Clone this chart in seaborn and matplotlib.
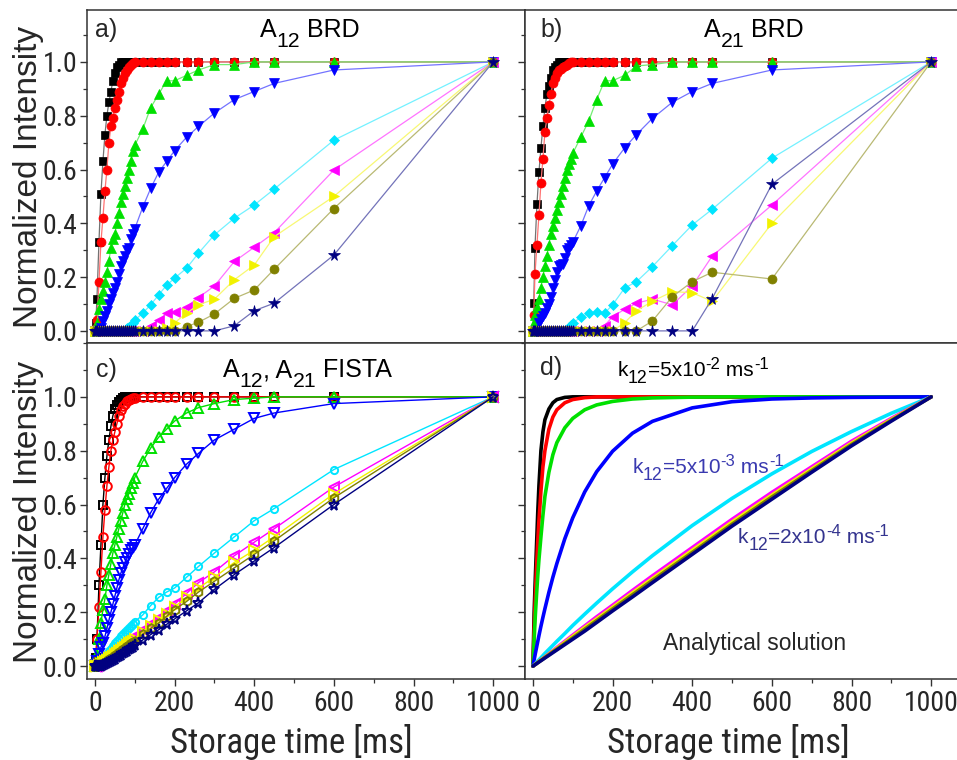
import matplotlib
matplotlib.use("Agg")
import matplotlib.pyplot as plt
import matplotlib.colors as mcolors
from matplotlib import font_manager as fm
from matplotlib.ticker import MultipleLocator
import seaborn as sns

# ---------------------------------------------------------------- data
# storage times [ms] of the measured / reconstructed series (panels a-c)
t_ms = [0, 2, 5, 10, 15, 20, 25, 30, 35, 40, 45, 50, 55, 60, 65, 70, 75, 80, 85,
        90, 95, 100, 120, 140, 160, 180, 200, 230, 260, 300, 350, 400, 450, 600, 1000]

# a) A12 BRD
a_black = [0, .03, .12, .33, .51, .63, .73, .80, .85, .89, .93, .96, .98, .99, 1, 1, 1, 1, 1,
           1, 1, 1, 1, 1, 1, 1, 1, 1, 1, 1, 1, 1, 1, 1, 1]
a_red = [0, .01, .04, .18, .33, .42, .52, .60, .70, .76, .79, .83, .86, .89, .92, .94, .96, .97, .98,
         .99, .995, 1, 1, 1, 1, 1, 1, 1, 1, 1, 1, 1, 1, 1, 1]
a_green = [0, .01, .03, .08, .12, .15, .18, .22, .26, .31, .34, .36, .40, .44, .48, .51, .54, .57, .60,
           .63, .67, .69, .75, .83, .88, .93, .93, .95, .97, .99, .99, 1, 1, 1, 1]
a_blue = [0, 0, 0, 0, .01, .035, .055, .075, .10, .12, .14, .16, .18, .21, .24, .26, .28, .30, .31,
          .34, .36, .38, .46, .53, .59, .63, .67, .72, .76, .81, .86, .89, .92, .97, 1]
a_cyan = [0, 0, 0, 0, 0, 0, 0, 0, 0, 0, 0, 0, 0, 0, 0, 0, 0, .01, .015,
          .02, .03, .04, .066, .097, .134, .17, .196, .233, .289, .357, .419, .468, .527, .709, 1]
a_magenta = [0, 0, 0, 0, 0, 0, 0, 0, 0, 0, 0, 0, 0, 0, 0, 0, 0, 0, 0,
             0, 0, 0, 0, .02, .04, .065, .07, .09, .124, .167, .258, .311, .365, .598, 1]
a_yellow = [0, 0, 0, 0, 0, 0, 0, 0, 0, 0, 0, 0, 0, 0, 0, 0, 0, 0, 0,
            0, 0, 0, 0, 0, 0, .01, .03, .066, .097, .118, .19, .245, .35, .50, 1]
a_olive = [0, 0, 0, 0, 0, 0, 0, 0, 0, 0, 0, 0, 0, 0, 0, 0, 0, 0, 0,
           0, 0, 0, 0, 0, 0, 0, 0, .016, .032, .063, .121, .152, .229, .455, 1]
a_navy = [0, 0, 0, 0, 0, 0, 0, 0, 0, 0, 0, 0, 0, 0, 0, 0, 0, 0, 0,
          0, 0, 0, 0, 0, 0, 0, 0, 0, 0, 0, .019, .075, .103, .282, 1]

# b) A21 BRD
b_black = [0, .105, .31, .47, .59, .68, .76, .83, .88, .91, .94, .97, .98, .99, 1, 1, 1, 1, 1,
           1, 1, 1, 1, 1, 1, 1, 1, 1, 1, 1, 1, 1, 1, 1, 1]
b_red = [0, .06, .21, .32, .43, .55, .64, .74, .79, .84, .88, .92, .94, .96, .97, .975, .98, .985, .99,
         .995, 1, 1, 1, 1, 1, 1, 1, 1, 1, 1, 1, 1, 1, 1, 1]
b_green = [0, .03, .06, .09, .12, .16, .20, .24, .28, .32, .36, .39, .42, .45, .48, .51, .54, .57, .60,
           .62, .64, .66, .72, .78, .86, .93, .93, .95, .985, .99, 1, 1, 1, 1, 1]
b_blue = [0, 0, 0, 0, .03, .045, .055, .066, .085, .10, .125, .16, .19, .22, .24, .245, .25, .27, .30,
          .31, .32, .33, .39, .465, .52, .57, .62, .68, .73, .79, .85, .89, .92, .97, 1]
b_cyan = [0, 0, 0, 0, 0, 0, 0, 0, 0, 0, 0, 0, 0, 0, 0, 0, 0, 0, 0,
          .015, .022, .03, .05, .066, .07, .066, .097, .159, .183, .239, .317, .394, .452, .642, 1]
b_magenta = [0, 0, 0, 0, 0, 0, 0, 0, 0, 0, 0, 0, 0, 0, 0, 0, 0, 0, 0,
             0, 0, 0, 0, 0, 0, .02, .053, .08, .103, .118, .097, .167, .278, .468, 1]
b_yellow = [0, 0, 0, 0, 0, 0, 0, 0, 0, 0, 0, 0, 0, 0, 0, 0, 0, 0, 0,
            0, 0, 0, 0, 0, 0, 0, 0, .03, .075, .11, .146, .142, .11, .40, 1]
b_olive = [0, 0, 0, 0, 0, 0, 0, 0, 0, 0, 0, 0, 0, 0, 0, 0, 0, 0, 0,
           0, 0, 0, 0, 0, 0, 0, 0, 0, 0, .037, .127, .183, .218, .193, 1]
b_navy = [0, 0, 0, 0, 0, 0, 0, 0, 0, 0, 0, 0, 0, 0, 0, 0, 0, 0, 0,
          0, 0, 0, 0, 0, 0, 0, 0, 0, 0, 0, 0, 0, .12, .545, 1]

# c) A12, A21 FISTA
c_black = [0, .03, .10, .30, .45, .60, .70, .78, .84, .89, .93, .955, .97, .98, .99, .995, 1, 1, 1,
           1, 1, 1, 1, 1, 1, 1, 1, 1, 1, 1, 1, 1, 1, 1, 1]
c_red = [0, .02, .10, .22, .35, .48, .58, .67, .74, .80, .84, .87, .90, .93, .95, .965, .975, .983, .988,
         .992, .995, .997, 1, 1, 1, 1, 1, 1, 1, 1, 1, 1, 1, 1, 1]
c_green = [0, .01, .04, .10, .16, .21, .25, .30, .34, .38, .42, .45, .48, .51, .54, .57, .60, .62, .64,
           .66, .68, .70, .76, .81, .85, .88, .91, .94, .96, .975, .99, .995, 1, 1, 1]
c_blue = [0, .005, .02, .045, .07, .085, .11, .14, .17, .20, .23, .26, .29, .32, .345, .365, .385, .40, .415,
          .43, .44, .45, .51, .57, .62, .66, .70, .75, .79, .84, .88, .92, .94, .975, 1]
c_cyan = [0, 0, .005, .012, .02, .028, .035, .045, .055, .065, .075, .085, .093, .10, .11, .12, .127, .135, .143,
          .15, .157, .165, .19, .225, .255, .275, .29, .33, .37, .42, .48, .54, .585, .73, 1]
c_magenta = [0, 0, 0, .005, .01, .015, .022, .028, .035, .042, .048, .055, .06, .066, .072, .078, .084, .09, .095,
             .10, .106, .112, .135, .158, .18, .205, .23, .27, .31, .35, .41, .46, .51, .665, 1]
c_yellow = [0, 0, .002, .005, .009, .014, .019, .024, .029, .034, .039, .044, .05, .055, .06, .066, .072, .078, .084,
            .09, .095, .10, .125, .15, .17, .195, .22, .255, .29, .33, .385, .43, .48, .64, 1]
c_olive = [0, 0, .001, .004, .007, .011, .015, .02, .025, .03, .035, .04, .046, .051, .056, .062, .067, .073, .079,
           .085, .09, .095, .118, .14, .16, .185, .21, .24, .275, .315, .365, .415, .465, .625, 1]
c_navy = [0, 0, 0, .001, .002, .004, .007, .01, .014, .018, .022, .027, .032, .037, .042, .047, .052, .057, .062,
          .067, .072, .077, .097, .117, .135, .155, .175, .205, .235, .285, .34, .39, .44, .60, 1]

# d) analytical solution, read on its own time grid
t_d = [0, 3, 6, 9, 12, 15, 20, 25, 30, 40, 50, 60, 80, 100, 130, 160, 200, 250, 300,
       400, 500, 600, 700, 800, 900, 1000]
d_black = [0, .20, .33, .45, .57, .67, .80, .87, .915, .955, .978, .99, .998, 1, 1, 1, 1, 1, 1,
           1, 1, 1, 1, 1, 1, 1]
d_red = [0, .14, .26, .37, .46, .54, .65, .74, .80, .88, .925, .952, .978, .99, .997, 1, 1, 1, 1,
         1, 1, 1, 1, 1, 1, 1]
d_green = [0, .10, .19, .265, .335, .395, .48, .56, .63, .72, .785, .83, .885, .92, .952, .97, .983, .992, .996,
           .999, 1, 1, 1, 1, 1, 1]
d_blue = [0, .024, .047, .069, .091, .113, .148, .181, .213, .274, .33, .381, .473, .551, .647, .722, .798, .865, .909,
          .959, .982, .992, .996, .998, .999, 1]
d_cyan = [0, .005, .009, .014, .019, .023, .031, .039, .047, .062, .077, .092, .121, .151, .193, .234, .287, .35, .41,
          .522, .623, .714, .797, .871, .939, 1]
d_magenta = [0, .003, .007, .01, .014, .017, .023, .029, .034, .046, .057, .069, .092, .115, .149, .183, .226, .281, .335,
             .44, .545, .645, .74, .835, .92, 1]
d_yellow = [0, .003, .007, .01, .013, .017, .022, .028, .033, .044, .055, .066, .088, .11, .143, .175, .218, .272, .325,
            .43, .535, .635, .732, .828, .916, 1]
d_olive = [0, .003, .006, .009, .013, .016, .021, .026, .032, .042, .053, .063, .084, .105, .137, .169, .212, .265, .318,
           .422, .527, .628, .726, .823, .913, 1]
d_navy = [0, .003, .006, .009, .012, .015, .02, .025, .03, .04, .05, .06, .08, .10, .13, .162, .205, .257, .31,
          .415, .52, .62, .72, .818, .91, 1]

x_ticks = [0, 200, 400, 600, 800, 1000]
y_ticks = [0.0, 0.2, 0.4, 0.6, 0.8, 1.0]

# ---------------------------------------------------------------- style
sns.set_style("ticks")
names = {f.name for f in fm.fontManager.ttflist}


def pick(cands):
    for c in cands:
        if c in names:
            return c
    return "DejaVu Sans"


REG = pick(["Liberation Sans", "Arial", "DejaVu Sans"])
NARROW = pick(["Liberation Sans Narrow", "Arial Narrow", "Roboto Condensed", REG])
plt.rcParams["font.family"] = [REG, "DejaVu Sans"]

COLORS = ["#000000", "#ff0000", "#00e000", "#0000ff", "#00e5ff",
          "#ff00ff", "#f2f200", "#808000", "#000080"]
FILLED = ["s", "o", "^", "v", "D", "<", ">", "o", "*"]
OPEN = ["s", "o", "^", "v", "o", "<", ">", "h", "*"]
MSIZE = [6, 6.5, 7, 7, 5.5, 7, 7, 6.5, 8.5]


def lighten(c, f):
    r, g, b = mcolors.to_rgb(c)
    return (1 - f * (1 - r), 1 - f * (1 - g), 1 - f * (1 - b))


W, H = 957, 760
fig = plt.figure(figsize=(W / 100, H / 100), dpi=100)
ax_a = fig.add_axes([87 / W, 1 - 343 / H, 438 / W, 333 / H])
ax_b = fig.add_axes([525 / W, 1 - 343 / H, 438 / W, 333 / H])
ax_c = fig.add_axes([87 / W, 1 - 679 / H, 438 / W, 336 / H])
ax_d = fig.add_axes([525 / W, 1 - 679 / H, 438 / W, 336 / H])


def markers_panel(ax, series, open_markers=False):
    for i, y in enumerate(series):
        col = COLORS[i]
        if open_markers:
            sns.lineplot(x=t_ms, y=y, ax=ax, color=col, linewidth=1.0,
                         marker=OPEN[i], markersize=MSIZE[i] - 0.3,
                         markerfacecolor="none", markeredgecolor=col,
                         markeredgewidth=1.4, legend=False)
        else:
            sns.lineplot(x=t_ms, y=y, ax=ax, color=lighten(col, 0.55), linewidth=0.9,
                         marker=FILLED[i], markersize=MSIZE[i],
                         markerfacecolor=col, markeredgecolor=col,
                         markeredgewidth=0.5, legend=False)


markers_panel(ax_a, [a_black, a_red, a_green, a_blue, a_cyan, a_magenta, a_yellow, a_olive, a_navy])
markers_panel(ax_b, [b_black, b_red, b_green, b_blue, b_cyan, b_magenta, b_yellow, b_olive, b_navy])
markers_panel(ax_c, [c_black, c_red, c_green, c_blue, c_cyan, c_magenta, c_yellow, c_olive, c_navy],
              open_markers=True)
for i, y in enumerate([d_black, d_red, d_green, d_blue, d_cyan, d_magenta, d_yellow, d_olive, d_navy]):
    sns.lineplot(x=t_d, y=y, ax=ax_d, color=COLORS[i], linewidth=2.6, legend=False)

# ---------------------------------------------------------------- axes
for ax, top in [(ax_a, True), (ax_b, True), (ax_c, False), (ax_d, False)]:
    ax.set_xlim(-20, 1080)
    ax.set_ylim((-0.045, 1.193) if top else (-0.048, 1.2))
    ax.set_xticks(x_ticks)
    ax.set_yticks(y_ticks)
    ax.xaxis.set_minor_locator(MultipleLocator(100))
    ax.yaxis.set_minor_locator(MultipleLocator(0.1))
    ax.tick_params(which="major", direction="out", length=5, width=1.0, color="#333333",
                   labelsize=20, pad=2, labelfontfamily=NARROW)
    ax.tick_params(which="minor", direction="out", length=3, width=0.9, color="#333333")
    ax.tick_params(axis="x", pad=3)
    ax.tick_params(labelbottom=not top)
    if ax in (ax_b, ax_d):
        ax.tick_params(labelleft=False)
    for sp in ax.spines.values():
        sp.set_color("#333333")
        sp.set_linewidth(1.1)
    ax.set_xlabel("")
    ax.set_ylabel("")
    ax.set_facecolor("white")


def rich(ax, x, y, pieces, size, color="black"):
    """Draw text pieces left to right; each piece is (text, rise in pt, scale)."""
    prev, prev_rise = None, 0
    for s, rise, scale in pieces:
        if prev is None:
            prev = ax.text(x, y, s, fontsize=size * scale, color=color,
                           ha="left", va="baseline")
        else:
            prev = ax.annotate(s, xy=(1, 0), xycoords=prev,
                               xytext=(0, rise - prev_rise), textcoords="offset points",
                               fontsize=size * scale, color=color, ha="left", va="bottom")
        prev_rise = rise


# panel letters and titles
ax_a.text(0, 1.094, "a)", fontsize=18, ha="left", va="baseline")
ax_b.text(18, 1.094, "b)", fontsize=18, ha="left", va="baseline")
ax_c.text(2, 1.075, "c)", fontsize=18, ha="left", va="baseline")
ax_d.text(18, 1.08, "d)", fontsize=18, ha="left", va="baseline")

rich(ax_a, 415, 1.092, [("A", 0, 1), ("12", -6, 0.85), (" BRD", 0, 1)], 18)
rich(ax_b, 429, 1.092, [("A", 0, 1), ("21", -6, 0.85), (" BRD", 0, 1)], 18)
rich(ax_c, 322, 1.073, [("A", 0, 1), ("12", -6, 0.85), (", A", 0, 1), ("21", -6, 0.85),
                        (" FISTA", 0, 1)], 18)

rich(ax_d, 212, 1.078, [("k", 0, 1), ("12", -5, 0.85), ("=5x10", 0, 1), ("-2", 6, 0.8),
                        (" ms", 0, 1), ("-1", 6, 0.8)], 15)
rich(ax_d, 250, 0.716, [("k", 0, 1), ("12", -5, 0.85), ("=5x10", 0, 1), ("-3", 6, 0.8),
                        (" ms", 0, 1), ("-1", 6, 0.8)], 15, color="#3a3ab0")
rich(ax_d, 515, 0.456, [("k", 0, 1), ("12", -5, 0.85), ("=2x10", 0, 1), ("-4", 6, 0.8),
                        (" ms", 0, 1), ("-1", 6, 0.8)], 15, color="#34348f")
ax_d.text(326, 0.059, "Analytical solution", fontsize=16.5, ha="left", va="baseline")

# shared axis titles
for yc in (177, 512):
    fig.text(28.5 / W, 1 - yc / H, "Normalized Intensity", rotation=90,
             ha="center", va="center", fontsize=24)
for xc in (291, 728):
    fig.text(xc / W, 7 / H, "Storage time [ms]", ha="center", va="baseline",
             fontsize=25, family=[NARROW, REG])

fig.savefig("out.png", dpi=100)
